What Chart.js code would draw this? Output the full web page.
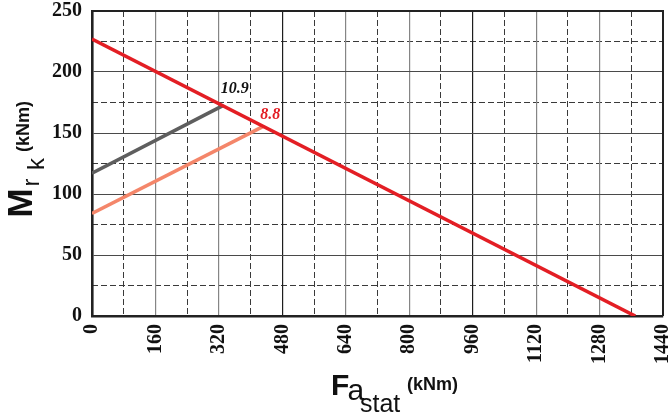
<!DOCTYPE html>
<html>
<head>
<meta charset="utf-8">
<script src="https://cdn.jsdelivr.net/npm/chart.js@4/dist/chart.umd.min.js"></script>
<style>
  html, body { margin: 0; padding: 0; background: #fff; }
  #wrap { width: 671px; height: 414px; position: relative; }
</style>
</head>
<body>
<div id="wrap"><canvas id="c" width="671" height="414"></canvas></div>
<script>
// ---- data ----
const xTickLabels = ['0','160','320','480','640','800','960','1120','1280','1440'];
const yTickLabels = ['0','50','100','150','200','250'];
const xMinorStep = 80;
const yMinorStep = 25;

const limitX = [0, 1370];      // red limit line (Fa stat)
const limitY = [227, 0];       // red limit line (Mrk)
const grade109X = [0, 330];    // 10.9 line
const grade109Y = [117, 172.4];
const grade88X = [0, 432];     // 8.8 line
const grade88Y = [84, 155.5];
const gradeLabels = ['10.9', '8.8'];

const toPts = (xs, ys) => xs.map((x, i) => ({ x: x, y: ys[i] }));

const xMax = Number(xTickLabels[xTickLabels.length - 1]);
const yMax = Number(yTickLabels[yTickLabels.length - 1]);

const noPad = (s) => { s.paddingLeft = 0; s.paddingRight = 0; s.paddingTop = 0; s.paddingBottom = 0; };

const decorPlugin = {
  id: 'decor',
  afterDatasetsDraw(chart) {
    const ctx = chart.ctx;
    const a = chart.chartArea;
    ctx.save();
    // top & right frame
    ctx.strokeStyle = '#222';
    ctx.lineWidth = 2;
    ctx.beginPath();
    ctx.moveTo(a.left, a.top);
    ctx.lineTo(a.right, a.top);
    ctx.lineTo(a.right, a.bottom);
    ctx.stroke();

    // grade labels at line ends
    const xs = chart.scales.x, ys = chart.scales.y;
    ctx.font = 'italic bold 16px "Liberation Serif", "DejaVu Serif", serif';
    ctx.textBaseline = 'alphabetic';
    ctx.textAlign = 'left';
    const p1 = { x: xs.getPixelForValue(grade109X[1]), y: ys.getPixelForValue(grade109Y[1]) };
    ctx.fillStyle = '#111';
    ctx.fillText(gradeLabels[0], p1.x - 2, p1.y - 12.5);
    const p2 = { x: xs.getPixelForValue(grade88X[1]), y: ys.getPixelForValue(grade88Y[1]) };
    ctx.fillStyle = '#e31e24';
    ctx.fillText(gradeLabels[1], p2.x - 3, p2.y - 7.5);
    ctx.restore();
  },
  afterDraw(chart) {
    const ctx = chart.ctx;
    ctx.save();
    ctx.fillStyle = '#111';
    ctx.textBaseline = 'alphabetic';
    ctx.textAlign = 'left';
    const sans = '"Liberation Sans", Arial, Helvetica, sans-serif';
    // Y axis title: M r k (kNm), rotated
    const rot = (txt, font, bx, by) => {
      ctx.save();
      ctx.translate(bx, by);
      ctx.rotate(-Math.PI / 2);
      ctx.font = font;
      ctx.fillText(txt, 0, 0);
      ctx.restore();
    };
    rot('M', 'bold 35px ' + sans, 32, 217.5);
    rot('r', '24px ' + sans, 38.5, 186.5);
    rot('k', '24px ' + sans, 43.5, 170);
    rot('(kNm)', 'bold 18px ' + sans, 28.5, 152);

    // X axis title: F a stat (kNm)
    ctx.font = 'bold 30px ' + sans;
    ctx.fillText('F', 331, 395);
    ctx.font = '30px ' + sans;
    ctx.fillText('a', 347.5, 400);
    ctx.font = '25px ' + sans;
    ctx.fillText('stat', 360, 412);
    ctx.font = 'bold 18px ' + sans;
    ctx.fillText('(kNm)', 407, 390);
    ctx.restore();
  }
};

const tickFont = { family: '"Liberation Serif", "Times New Roman", serif', size: 20, weight: 'bold' };

new Chart(document.getElementById('c'), {
  type: 'scatter',
  data: {
    datasets: [
      { data: toPts(limitX, limitY), showLine: true, borderColor: '#e31e24', borderWidth: 3.6, pointRadius: 0, order: 1 },
      { data: toPts(grade109X, grade109Y), showLine: true, borderColor: '#5e5e5e', borderWidth: 3.6, pointRadius: 0, order: 2 },
      { data: toPts(grade88X, grade88Y), showLine: true, borderColor: '#f4866a', borderWidth: 3.6, pointRadius: 0, order: 3 }
    ]
  },
  options: {
    responsive: false,
    animation: false,
    devicePixelRatio: 1,
    layout: { padding: { top: 11, right: 8, left: 0, bottom: 0 } },
    plugins: { legend: { display: false }, tooltip: { enabled: false } },
    scales: {
      xm: {
        type: 'linear', position: 'bottom', min: 0, max: xMax, z: -1,
        ticks: { display: false, stepSize: xMinorStep },
        grid: {
          drawTicks: false,
          color: (c) => (c.tick && c.tick.value % 160 === 0) ? 'rgba(0,0,0,0)' : '#3a3a3a',
          lineWidth: 1
        },
        border: { display: false, dash: [6, 3] },
        afterFit(s) { s.height = 0; noPad(s); }
      },
      ym: {
        type: 'linear', position: 'left', min: 0, max: yMax, z: -1,
        ticks: { display: false, stepSize: yMinorStep },
        grid: {
          drawTicks: false,
          color: (c) => (c.tick && c.tick.value % 50 === 0) ? 'rgba(0,0,0,0)' : '#3a3a3a',
          lineWidth: 1
        },
        border: { display: false, dash: [6, 3] },
        afterFit(s) { s.width = 0; noPad(s); }
      },
      x: {
        type: 'linear', position: 'bottom', min: 0, max: xMax,
        afterBuildTicks(s) { s.ticks = xTickLabels.map(v => ({ value: Number(v) })); },
        ticks: {
          font: tickFont, color: '#111', padding: 8,
          maxRotation: 90, minRotation: 90, autoSkip: false,
          callback: (v) => xTickLabels.find(t => Number(t) === v) || ''
        },
        grid: {
          drawTicks: false,
          color: (c) => (c.tick && (c.tick.value === 480 || c.tick.value === 960)) ? '#1e1e1e' : '#858585',
          lineWidth: 1.2
        },
        border: { display: true, color: '#222', width: 2.6 },
        afterFit(s) { s.height = 98; noPad(s); }
      },
      y: {
        type: 'linear', position: 'left', min: 0, max: yMax,
        afterBuildTicks(s) { s.ticks = yTickLabels.map(v => ({ value: Number(v) })); },
        ticks: {
          font: tickFont, color: '#111', padding: 10, autoSkip: false,
          callback: (v) => yTickLabels.find(t => Number(t) === v) || ''
        },
        grid: { drawTicks: false, color: '#4a4a4a', lineWidth: 1 },
        border: { display: true, color: '#222', width: 2.6 },
        afterFit(s) { s.width = 92; noPad(s); }
      }
    }
  },
  plugins: [decorPlugin]
});
</script>
</body>
</html>
